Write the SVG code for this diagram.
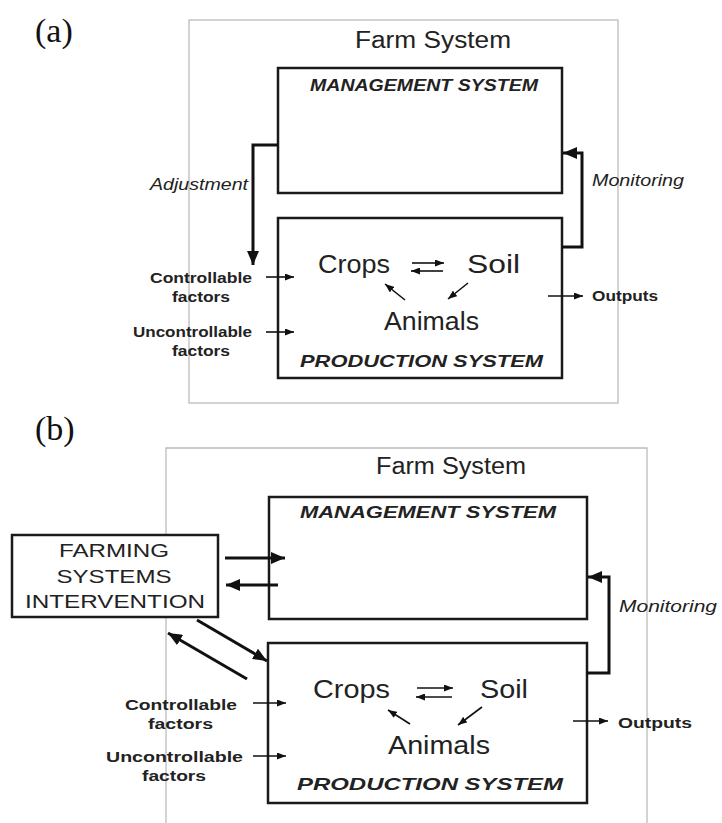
<svg xmlns="http://www.w3.org/2000/svg" width="722" height="823" viewBox="0 0 722 823">
<defs>
<marker id="big" markerUnits="userSpaceOnUse" markerWidth="14" markerHeight="12" refX="14" refY="6" orient="auto"><path d="M0,0 L14,6 L0,12 z" fill="#111"/></marker>
<marker id="small" markerUnits="userSpaceOnUse" markerWidth="9" markerHeight="7" refX="9" refY="3.5" orient="auto"><path d="M0,0 L9,3.5 L0,7 z" fill="#111"/></marker>
</defs>
<style>
.frame{fill:none;stroke:#bcbcbc;stroke-width:1.3}
.box{fill:#fff;stroke:#1a1a1a;stroke-width:2.5}
.thick{fill:none;stroke:#111;stroke-width:3}
.thin{fill:none;stroke:#111;stroke-width:1.6}
.lab{font-family:"Liberation Serif",serif;font-size:34px;fill:#111}
.farm{font-family:"Liberation Sans",Arial,sans-serif;font-size:23px;fill:#222}
.sys{font-family:"Liberation Sans",Arial,sans-serif;font-size:17px;font-weight:bold;font-style:italic;fill:#222}
.big{font-family:"Liberation Sans",Arial,sans-serif;font-size:25px;fill:#222}
.it{font-family:"Liberation Sans",Arial,sans-serif;font-size:16px;font-style:italic;fill:#222}
.bd{font-family:"Liberation Sans",Arial,sans-serif;font-size:14px;font-weight:bold;fill:#222}
.fsi{font-family:"Liberation Sans",Arial,sans-serif;font-size:19px;fill:#222;text-anchor:middle}
</style>

<!-- Panel (a) -->
<g id="panel-a">
<text class="lab" x="35" y="42">(a)</text>
<rect class="frame" x="189" y="20" width="429" height="383"/>
<text class="farm" x="355" y="48" textLength="156" lengthAdjust="spacingAndGlyphs">Farm System</text>
</g>
<g id="a-management">
<rect class="box" x="278" y="68" width="284" height="125"/>
<text class="sys" x="310" y="91" textLength="228" lengthAdjust="spacingAndGlyphs">MANAGEMENT SYSTEM</text>
</g>
<g id="a-production">
<rect class="box" x="278" y="218" width="284" height="160"/>
<text class="big" x="318" y="273" textLength="72" lengthAdjust="spacingAndGlyphs">Crops</text>
<text class="big" x="467" y="273" textLength="53" lengthAdjust="spacingAndGlyphs">Soil</text>
<text class="big" x="384" y="330" textLength="95" lengthAdjust="spacingAndGlyphs">Animals</text>
<text class="sys" x="300" y="367" textLength="243" lengthAdjust="spacingAndGlyphs">PRODUCTION SYSTEM</text>
</g>
<g id="a-labels">
<text class="it" x="150" y="190" textLength="98" lengthAdjust="spacingAndGlyphs">Adjustment</text>
<text class="it" x="592" y="186" textLength="92" lengthAdjust="spacingAndGlyphs">Monitoring</text>
<text class="bd" x="150" y="283" textLength="102" lengthAdjust="spacingAndGlyphs">Controllable</text>
<text class="bd" x="172" y="302" textLength="58" lengthAdjust="spacingAndGlyphs">factors</text>
<text class="bd" x="133" y="337" textLength="119" lengthAdjust="spacingAndGlyphs">Uncontrollable</text>
<text class="bd" x="172" y="356" textLength="58" lengthAdjust="spacingAndGlyphs">factors</text>
<text class="bd" x="592" y="301" textLength="66" lengthAdjust="spacingAndGlyphs">Outputs</text>
</g>
<g id="a-connectors">
<path class="thick" d="M278,145 H253 V265" marker-end="url(#big)"/>
<path class="thick" d="M562,247 H582 V153 H563" marker-end="url(#big)"/>
<path class="thin" d="M266,277 H294" marker-end="url(#small)"/>
<path class="thin" d="M266,332 H294" marker-end="url(#small)"/>
<path class="thin" d="M548,296 H583" marker-end="url(#small)"/>
<path class="thin" d="M412,263 H444" marker-end="url(#small)"/>
<path class="thin" d="M443,271 H411" marker-end="url(#small)"/>
<path class="thin" d="M405,300 L385,284" marker-end="url(#small)"/>
<path class="thin" d="M468,283 L448,299" marker-end="url(#small)"/>
</g>

<!-- Panel (b) -->
<g id="panel-b">
<text class="lab" x="35" y="440">(b)</text>
<path class="frame" d="M166,830 V448 H647 V830"/>
<text class="farm" x="376" y="474" textLength="150" lengthAdjust="spacingAndGlyphs">Farm System</text>
</g>
<g id="b-intervention">
<rect class="box" x="12" y="535" width="206" height="82"/>
<text class="fsi" x="114" y="557" textLength="110" lengthAdjust="spacingAndGlyphs">FARMING</text>
<text class="fsi" x="114" y="583" textLength="115" lengthAdjust="spacingAndGlyphs">SYSTEMS</text>
<text class="fsi" x="115" y="608" textLength="180" lengthAdjust="spacingAndGlyphs">INTERVENTION</text>
</g>
<g id="b-management">
<rect class="box" x="269" y="497" width="318" height="122"/>
<text class="sys" x="300" y="518" textLength="256" lengthAdjust="spacingAndGlyphs">MANAGEMENT SYSTEM</text>
</g>
<g id="b-production">
<rect class="box" x="268" y="643" width="319" height="160"/>
<text class="big" x="313" y="698" textLength="77" lengthAdjust="spacingAndGlyphs">Crops</text>
<text class="big" x="480" y="698" textLength="48" lengthAdjust="spacingAndGlyphs">Soil</text>
<text class="big" x="388" y="754" textLength="102" lengthAdjust="spacingAndGlyphs">Animals</text>
<text class="sys" x="297" y="790" textLength="266" lengthAdjust="spacingAndGlyphs">PRODUCTION SYSTEM</text>
</g>
<g id="b-labels">
<text class="it" x="619" y="612" textLength="98" lengthAdjust="spacingAndGlyphs">Monitoring</text>
<text class="bd" x="125" y="710" textLength="112" lengthAdjust="spacingAndGlyphs">Controllable</text>
<text class="bd" x="148" y="729" textLength="65" lengthAdjust="spacingAndGlyphs">factors</text>
<text class="bd" x="106" y="762" textLength="137" lengthAdjust="spacingAndGlyphs">Uncontrollable</text>
<text class="bd" x="142" y="781" textLength="64" lengthAdjust="spacingAndGlyphs">factors</text>
<text class="bd" x="618" y="728" textLength="74" lengthAdjust="spacingAndGlyphs">Outputs</text>
</g>
<g id="b-connectors">
<path class="thick" d="M225,558 H285" marker-end="url(#big)"/>
<path class="thick" d="M278,585 H226" marker-end="url(#big)"/>
<path class="thick" d="M197,620 L267,661" marker-end="url(#big)"/>
<path class="thick" d="M247,679 L168,633" marker-end="url(#big)"/>
<path class="thick" d="M587,673 H609 V577 H588" marker-end="url(#big)"/>
<path class="thin" d="M253,703 H286" marker-end="url(#small)"/>
<path class="thin" d="M253,756 H286" marker-end="url(#small)"/>
<path class="thin" d="M573,721 H608" marker-end="url(#small)"/>
<path class="thin" d="M417,688 H453" marker-end="url(#small)"/>
<path class="thin" d="M452,697 H416" marker-end="url(#small)"/>
<path class="thin" d="M410,724 L388,710" marker-end="url(#small)"/>
<path class="thin" d="M482,707 L458,725" marker-end="url(#small)"/>
</g>
</svg>
